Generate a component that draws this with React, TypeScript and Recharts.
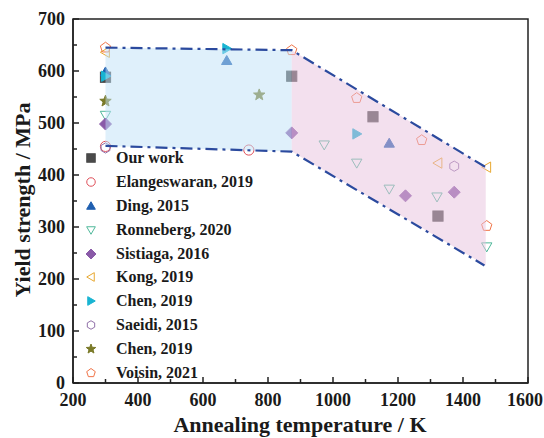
import { ComposedChart, Scatter, Line, Area, XAxis, YAxis, ReferenceArea } from "recharts";

type Pt = { x: number; y: number };

const xTicks = [200, 300, 400, 500, 600, 700, 800, 900, 1000, 1100, 1200, 1300, 1400, 1500, 1600];
const yTicks = [0, 50, 100, 150, 200, 250, 300, 350, 400, 450, 500, 550, 600, 650, 700];

const ourWork: Pt[] = [{ x: 300, y: 588 }, { x: 873, y: 590 }, { x: 1123, y: 512 }, { x: 1323, y: 321 }];
const elangeswaran: Pt[] = [{ x: 300, y: 455 }, { x: 741, y: 448 }];
const ding: Pt[] = [{ x: 300, y: 598 }, { x: 673, y: 620 }, { x: 1173, y: 461 }];
const ronneberg: Pt[] = [{ x: 300, y: 515 }, { x: 973, y: 458 }, { x: 1073, y: 423 }, { x: 1173, y: 373 }, { x: 1320, y: 358 }, { x: 1473, y: 262 }];
const sistiaga: Pt[] = [{ x: 300, y: 498 }, { x: 873, y: 481 }, { x: 1223, y: 360 }, { x: 1373, y: 367 }];
const kong: Pt[] = [{ x: 300, y: 636 }, { x: 1323, y: 423 }, { x: 1473, y: 415 }];
const chen1: Pt[] = [{ x: 300, y: 590 }, { x: 673, y: 643 }, { x: 1073, y: 479 }];
const saeidi: Pt[] = [{ x: 300, y: 452 }, { x: 1373, y: 417 }];
const chen2: Pt[] = [{ x: 300, y: 542 }, { x: 773, y: 554 }];
const voisin: Pt[] = [{ x: 300, y: 645 }, { x: 873, y: 640 }, { x: 1073, y: 548 }, { x: 1273, y: 467 }, { x: 1473, y: 302 }];

// band edges
const upperEdge: Pt[] = [{ x: 300, y: 645 }, { x: 873, y: 640 }, { x: 1470, y: 415 }];
const lowerEdge: Pt[] = [{ x: 300, y: 456 }, { x: 873, y: 445 }, { x: 1466, y: 226 }];
const blueBand = [{ x: 300, band: [456, 645] }, { x: 873, band: [445, 640] }];
const pinkBand = [{ x: 873, band: [445, 640] }, { x: 1470, band: [226, 415] }];

type Kind = "square" | "circle" | "up" | "down" | "diamond" | "left" | "right" | "hexagon" | "star" | "pentagon";

const series: { name: string; data: Pt[]; kind: Kind; color: string; filled: boolean }[] = [
  { name: "Our work", data: ourWork, kind: "square", color: "#4a4a4a", filled: true },
  { name: "Elangeswaran, 2019", data: elangeswaran, kind: "circle", color: "#e0505a", filled: false },
  { name: "Ding, 2015", data: ding, kind: "up", color: "#1f5fb0", filled: true },
  { name: "Ronneberg, 2020", data: ronneberg, kind: "down", color: "#4fb89a", filled: false },
  { name: "Sistiaga, 2016", data: sistiaga, kind: "diamond", color: "#8a5aa8", filled: true },
  { name: "Kong, 2019", data: kong, kind: "left", color: "#e8a830", filled: false },
  { name: "Chen, 2019", data: chen1, kind: "right", color: "#18b4d2", filled: true },
  { name: "Saeidi, 2015", data: saeidi, kind: "hexagon", color: "#9070a8", filled: false },
  { name: "Chen, 2019", data: chen2, kind: "star", color: "#7a7a28", filled: true },
  { name: "Voisin, 2021", data: voisin, kind: "pentagon", color: "#f07448", filled: false },
];

function poly(cx: number, cy: number, r: number, n: number, rot: number) {
  const pts: string[] = [];
  for (let i = 0; i < n; i++) {
    const a = rot + (i * 2 * Math.PI) / n;
    pts.push(`${cx + r * Math.cos(a)},${cy + r * Math.sin(a)}`);
  }
  return pts.join(" ");
}

function starPts(cx: number, cy: number, r: number) {
  const pts: string[] = [];
  for (let i = 0; i < 10; i++) {
    const a = -Math.PI / 2 + (i * Math.PI) / 5;
    const rr = i % 2 === 0 ? r : r * 0.42;
    pts.push(`${cx + rr * Math.cos(a)},${cy + rr * Math.sin(a)}`);
  }
  return pts.join(" ");
}

function Marker({ cx, cy, kind, color, filled, size }: { cx: number; cy: number; kind: Kind; color: string; filled: boolean; size: number }) {
  const r = size / 2;
  const fill = filled ? color : "none";
  const common = { fill, stroke: color, strokeWidth: 1 };
  switch (kind) {
    case "square":
      return <rect x={cx - r * 0.85} y={cy - r * 0.85} width={r * 1.7} height={r * 1.7} {...common} />;
    case "circle":
      return <circle cx={cx} cy={cy} r={r * 0.85} {...common} />;
    case "up":
      return <polygon points={poly(cx, cy + r * 0.15, r, 3, -Math.PI / 2)} {...common} />;
    case "down":
      return <polygon points={poly(cx, cy - r * 0.15, r, 3, Math.PI / 2)} {...common} />;
    case "left":
      return <polygon points={poly(cx + r * 0.15, cy, r, 3, Math.PI)} {...common} />;
    case "right":
      return <polygon points={poly(cx - r * 0.15, cy, r, 3, 0)} {...common} />;
    case "diamond":
      return <polygon points={poly(cx, cy, r, 4, 0)} {...common} />;
    case "hexagon":
      return <polygon points={poly(cx, cy, r * 0.85, 6, Math.PI / 6)} {...common} />;
    case "pentagon":
      return <polygon points={poly(cx, cy, r * 0.9, 5, -Math.PI / 2)} {...common} />;
    case "star":
      return <polygon points={starPts(cx, cy, r)} {...common} />;
  }
  return null;
}

const font = "'Liberation Serif', 'Times New Roman', serif";

function XTick(props: any) {
  const { x, y, payload } = props;
  const major = payload.value % 200 === 0;
  // keep the last label inside the picture
  const tx = payload.value === 1600 ? x - 3 : x;
  return (
    <g>
      <line x1={x} x2={x} y1={y} y2={y - (major ? 6 : 4)} stroke="#222" strokeWidth={1.5} />
      {major && (
        <text x={tx} y={y + 23} textAnchor="middle" fontFamily={font} fontWeight="bold" fontSize={18} fill="#1a1a1a">
          {payload.value}
        </text>
      )}
    </g>
  );
}

function YTick(props: any) {
  const { x, y, payload } = props;
  const major = payload.value % 100 === 0;
  return (
    <g>
      <line x1={x} x2={x + (major ? 6 : 4)} y1={y} y2={y} stroke="#222" strokeWidth={1.5} />
      {major && (
        <text x={x - 8} y={y + 6} textAnchor="end" fontFamily={font} fontWeight="bold" fontSize={18} fill="#1a1a1a">
          {payload.value}
        </text>
      )}
    </g>
  );
}

const labelStyle = { fontFamily: font, fontWeight: "bold" as const, fontSize: 22, fill: "#1a1a1a" };

export default function App() {
  return (
    <div style={{ position: "absolute", left: 0, top: 0, width: 544, height: 438, background: "#fff" }}>
      <ComposedChart width={544} height={438} margin={{ top: 19, right: 16, bottom: 0, left: 0 }}>
        <XAxis
          type="number"
          dataKey="x"
          domain={[200, 1600]}
          ticks={xTicks}
          interval={0}
          tickLine={false}
          tickSize={0}
          tickMargin={0}
          tick={<XTick />}
          axisLine={{ stroke: "#222", strokeWidth: 1.5 }}
          height={55}
          label={{
            content: () => (
              <text x={300} y={432} textAnchor="middle" {...labelStyle}>
                Annealing temperature / K
              </text>
            ),
          }}
        />
        <YAxis
          type="number"
          dataKey="y"
          domain={[0, 700]}
          ticks={yTicks}
          interval={0}
          tickLine={false}
          tickSize={0}
          tickMargin={0}
          tick={<YTick />}
          axisLine={{ stroke: "#222", strokeWidth: 1.5 }}
          width={73}
          label={{
            content: () => (
              <text x={22} y={200} transform="rotate(-90 22 200)" textAnchor="middle" dominantBaseline="central" {...labelStyle}>
                Yield strength / MPa
              </text>
            ),
          }}
        />
        <ReferenceArea x1={200} x2={1600} y1={0} y2={700} fill="none" stroke="#222" strokeWidth={1.5} />
        {series.map((s, i) => (
          <Scatter
            key={i}
            name={s.name}
            data={s.data}
            isAnimationActive={false}
            shape={(p: any) => <Marker cx={p.cx} cy={p.cy} kind={s.kind} color={s.color} filled={s.filled} size={12} />}
          />
        ))}
        <Area data={blueBand} dataKey="band" type="linear" stroke="none" fill="#bfe1f7" fillOpacity={0.5} isAnimationActive={false} zIndex={700} />
        <Area data={pinkBand} dataKey="band" type="linear" stroke="none" fill="#e7c1dd" fillOpacity={0.5} isAnimationActive={false} zIndex={700} />
        <Line data={upperEdge} dataKey="y" type="linear" stroke="#2b4a9e" strokeWidth={2.2} strokeDasharray="12 5 3 5" dot={false} isAnimationActive={false} zIndex={800} />
        <Line data={lowerEdge} dataKey="y" type="linear" stroke="#2b4a9e" strokeWidth={2.2} strokeDasharray="12 5 3 5" dot={false} isAnimationActive={false} zIndex={800} />
      </ComposedChart>
      <div style={{ position: "absolute", left: 80, top: 146, fontFamily: font, fontWeight: "bold", fontSize: 16, color: "#1a1a1a", lineHeight: "23.9px" }}>
        {series.map((s, i) => (
          <div key={i} style={{ display: "flex", alignItems: "center", height: 23.9 }}>
            <svg width={22} height={16} style={{ marginRight: 14 }}>
              <Marker cx={11} cy={8} kind={s.kind} color={s.color} filled={s.filled} size={10} />
            </svg>
            <span>{s.name}</span>
          </div>
        ))}
      </div>
    </div>
  );
}
